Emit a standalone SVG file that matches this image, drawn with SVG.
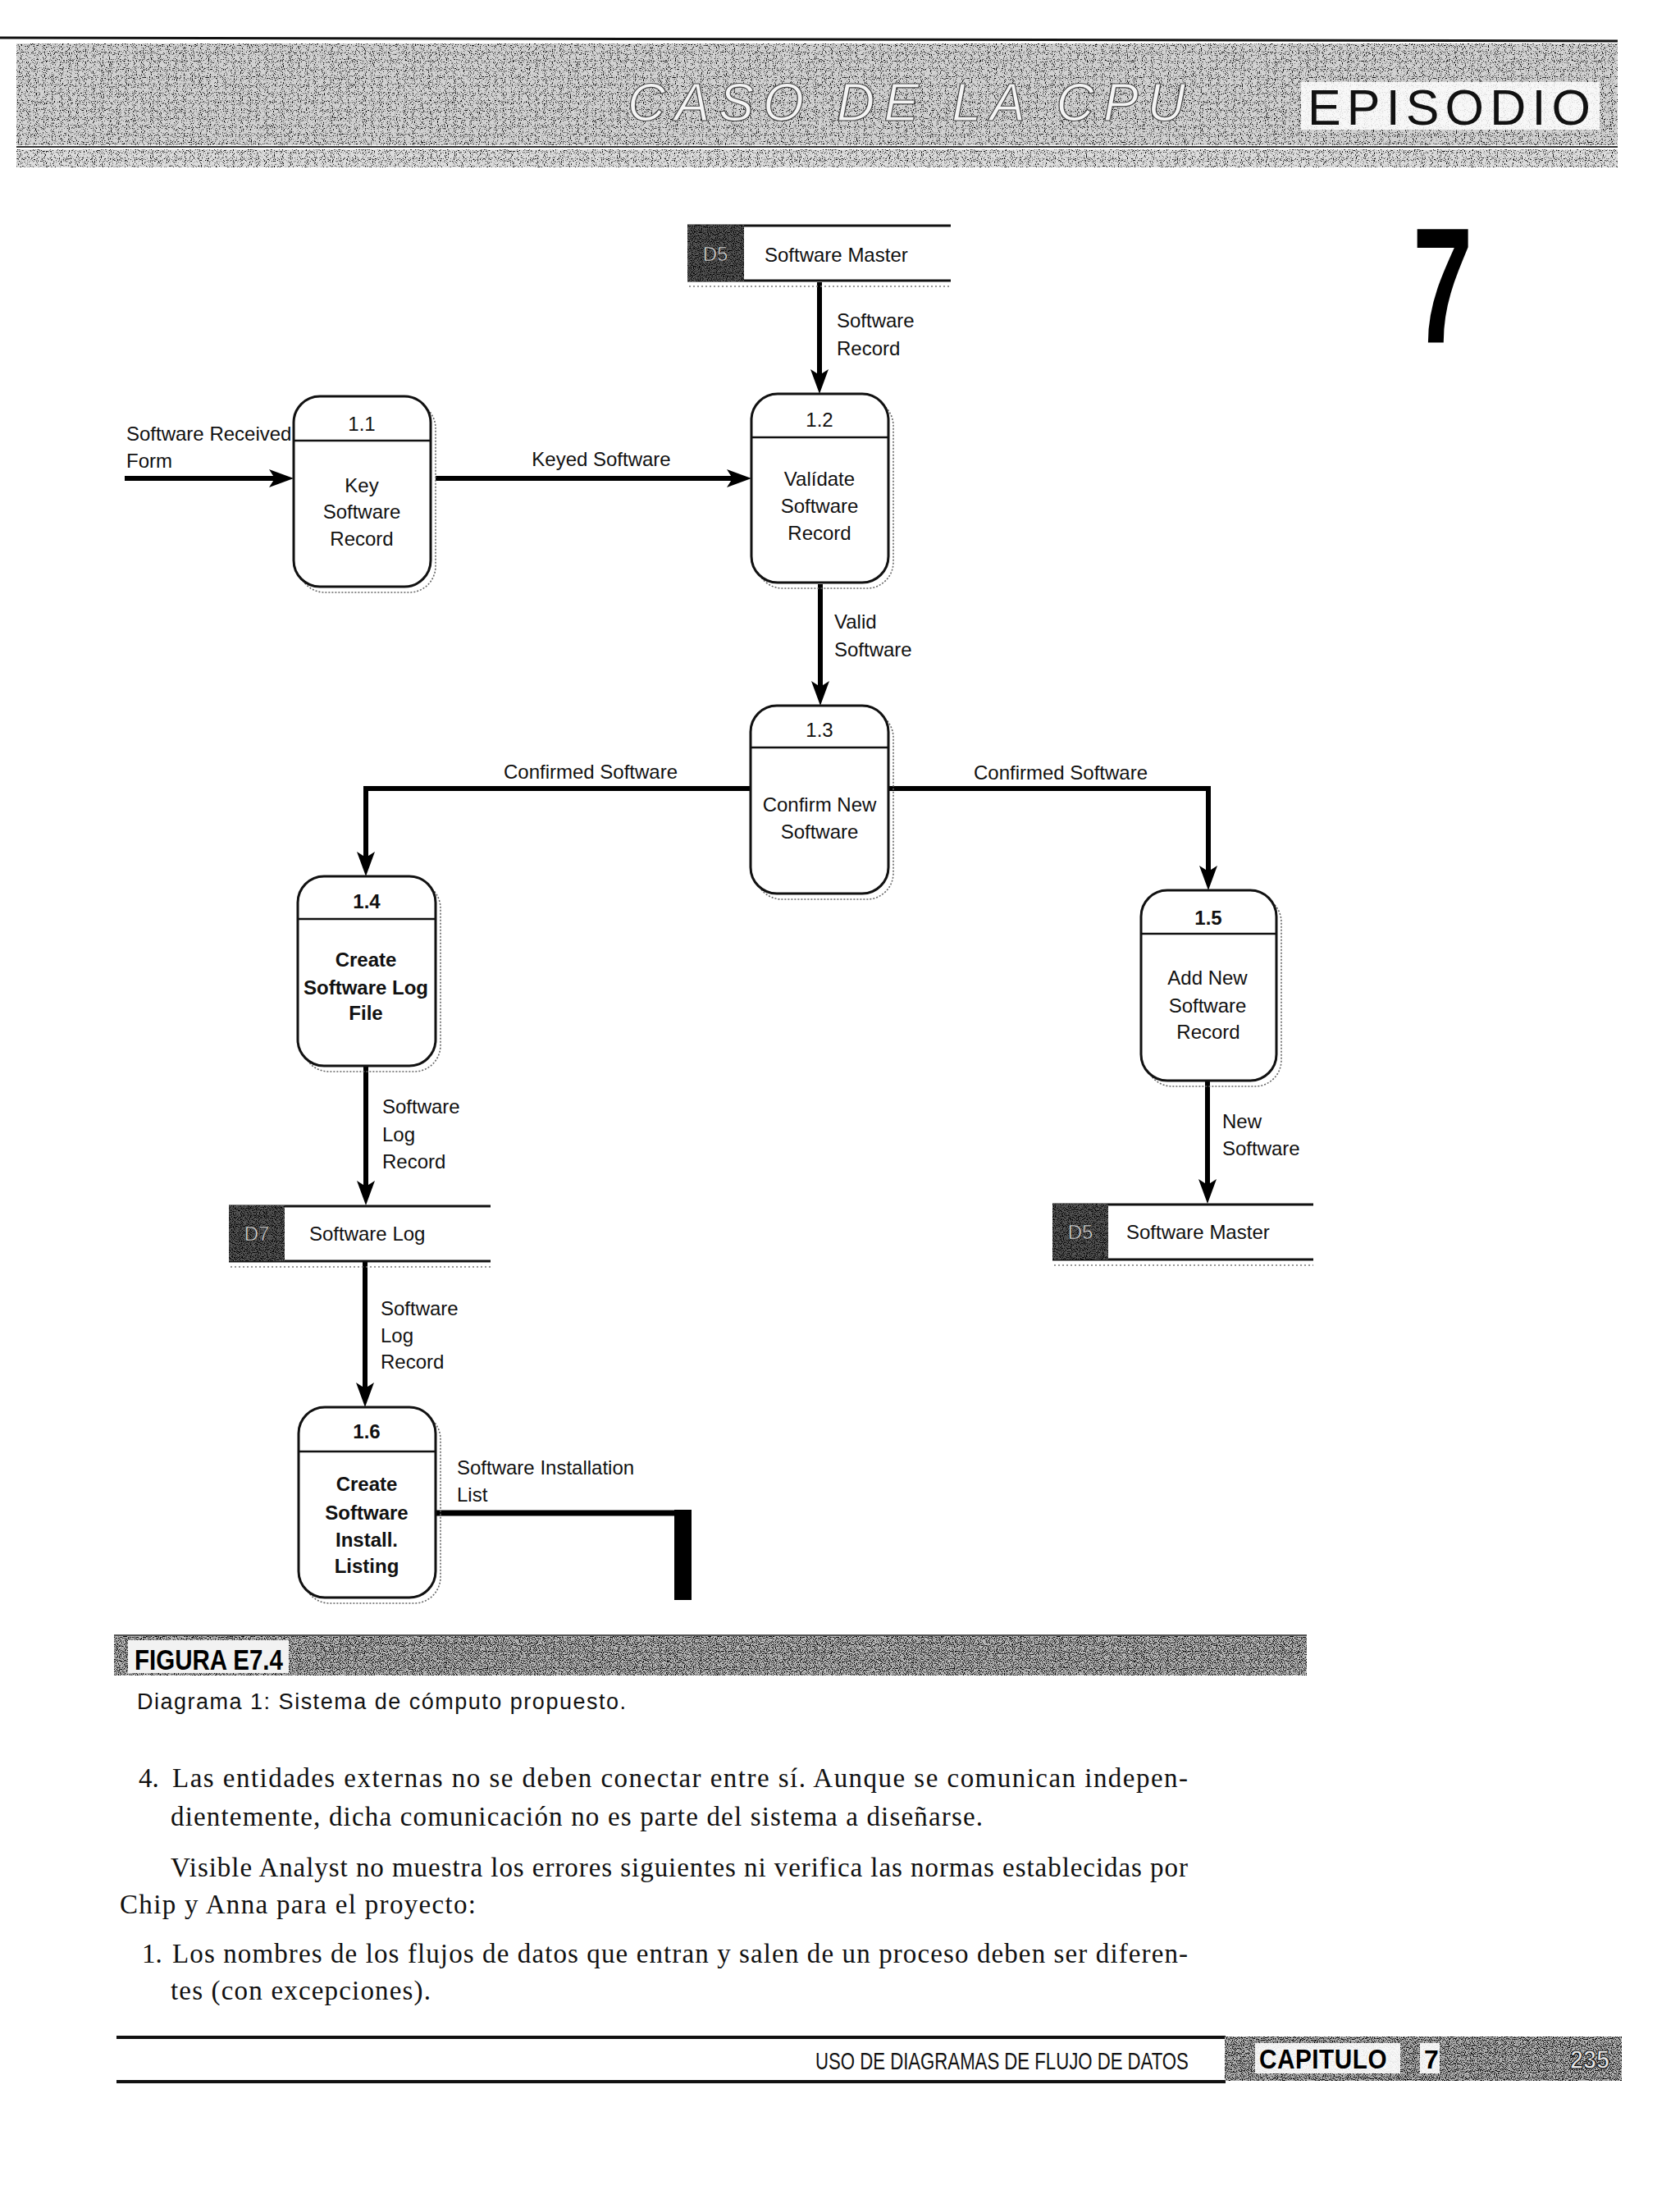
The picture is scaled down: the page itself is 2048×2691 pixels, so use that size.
<svg xmlns="http://www.w3.org/2000/svg" width="2048" height="2691" viewBox="0 0 2048 2691">
<defs>
<style>
.box{fill:#fff;stroke:#111;stroke-width:3}
.shadow{fill:none;stroke:#666;stroke-width:1.6;stroke-dasharray:2 2}
.div{stroke:#111;stroke-width:2.5}
.t{font-family:"Liberation Sans",Arial,sans-serif;font-size:24px;fill:#111}
.c{text-anchor:middle}
.b{font-weight:bold}
.flow{fill:none;stroke:#000;stroke-width:6;marker-end:url(#ah)}
.srule{stroke:#111;stroke-width:3}
.sshadow{stroke:#777;stroke-width:1.5;stroke-dasharray:2 3}
.serif{font-family:"Liberation Serif","Times New Roman",serif;font-size:33px;fill:#111}
</style>
<marker id="ah" markerUnits="userSpaceOnUse" markerWidth="32" markerHeight="22" viewBox="0 0 32 22" refX="18" refY="11" orient="auto">
<path d="M0,0 L30,11 L0,22 L7,11 z" fill="#000"/>
</marker>
<filter id="grainL" x="0" y="0" width="1" height="1" color-interpolation-filters="sRGB">
<feTurbulence type="fractalNoise" baseFrequency="0.9" numOctaves="1" seed="3"/>
<feColorMatrix type="matrix" values="0 0 0 0 0  0 0 0 0 0  0 0 0 0 0  -7 0 0 0 3.1"/>
<feComposite in2="SourceGraphic" operator="in"/>
</filter>
<filter id="grainD" x="0" y="0" width="1" height="1" color-interpolation-filters="sRGB">
<feTurbulence type="fractalNoise" baseFrequency="0.9" numOctaves="1" seed="7"/>
<feColorMatrix type="matrix" values="0 0 0 0 0  0 0 0 0 0  0 0 0 0 0  -7 0 0 0 3.6"/>
<feComposite in2="SourceGraphic" operator="in"/>
</filter>
</defs>
<rect width="2048" height="2691" fill="#fff"/>

<g id="header">
<line x1="0" y1="46" x2="1972" y2="50" stroke="#111" stroke-width="3"/>
<rect x="20" y="53" width="1952" height="124" fill="#d2d2d2"/>
<rect x="20" y="53" width="1952" height="124" fill="#000" filter="url(#grainL)"/>
<line x1="20" y1="179" x2="1972" y2="179" stroke="#333" stroke-width="2"/>
<rect x="20" y="182" width="1952" height="22" fill="#dcdcdc"/>
<rect x="20" y="182" width="1952" height="22" fill="#000" filter="url(#grainL)"/>
<text x="765" y="147" font-family="Liberation Sans, Arial, sans-serif" font-size="64" font-style="italic" fill="#f4f4f4" stroke="#444" stroke-width="1.2" textLength="680" lengthAdjust="spacing">CASO DE LA CPU</text>
<rect x="1586" y="100" width="364" height="58" fill="#fff" opacity="0.85"/>
<text x="1594" y="152" font-family="Liberation Sans, Arial, sans-serif" font-size="61" fill="#111" textLength="345" lengthAdjust="spacing">EPISODIO</text>
<text transform="translate(1728,417) scale(0.66,1)" x="-9" y="0" font-family="Liberation Sans, Arial, sans-serif" font-size="200" font-weight="bold" fill="#000">7</text>
</g>

<g id="connectors">
<g id="f_received">
<path class="flow" d="M152,583 H346"/>
<text class="t" x="154" y="537">Software Received</text>
<text class="t" x="154" y="570">Form</text>
</g>
<g id="f_keyed">
<path class="flow" d="M531,583 H904"/>
<text class="t c" x="733" y="568">Keyed Software</text>
</g>
<g id="f_swrecord">
<path class="flow" d="M999,344 V468"/>
<text class="t" x="1020" y="399">Software</text>
<text class="t" x="1020" y="433">Record</text>
</g>
<g id="f_valid">
<path class="flow" d="M1000,712 V848"/>
<text class="t" x="1017" y="766">Valid</text>
<text class="t" x="1017" y="800">Software</text>
</g>
<g id="f_conf_left">
<path class="flow" d="M915,961 H446 V1056"/>
<text class="t c" x="720" y="949">Confirmed Software</text>
</g>
<g id="f_conf_right">
<path class="flow" d="M1083,961 H1473 V1073"/>
<text class="t c" x="1293" y="950">Confirmed Software</text>
</g>
<g id="f_log1">
<path class="flow" d="M446,1299 V1457"/>
<text class="t" x="466" y="1357">Software</text>
<text class="t" x="466" y="1391">Log</text>
<text class="t" x="466" y="1424">Record</text>
</g>
<g id="f_new">
<path class="flow" d="M1472,1317 V1455"/>
<text class="t" x="1490" y="1375">New</text>
<text class="t" x="1490" y="1408">Software</text>
</g>
<g id="f_log2">
<path class="flow" d="M445,1537 V1703"/>
<text class="t" x="464" y="1603">Software</text>
<text class="t" x="464" y="1636">Log</text>
<text class="t" x="464" y="1668">Record</text>
</g>
<g id="f_install">
<path d="M531,1844 H834" fill="none" stroke="#000" stroke-width="7"/>
<rect x="822" y="1840" width="21" height="110" fill="#000"/>
<text class="t" x="557" y="1797">Software  Installation</text>
<text class="t" x="557" y="1830">List</text>
</g>
</g>

<g id="d5_top">
<line class="sshadow" x1="840" y1="349" x2="1159" y2="349"/>
<line class="srule" x1="838" y1="275" x2="1159" y2="275"/>
<line class="srule" x1="838" y1="342" x2="1159" y2="342"/>
<rect x="838" y="274" width="69" height="69" fill="#555"/>
<rect x="838" y="274" width="69" height="69" fill="#000" filter="url(#grainD)"/>
<text class="t c" x="872" y="318" style="fill:#e0e0e0" stroke="#222" stroke-width="0.6">D5</text>
<text class="t" x="932" y="319">Software Master</text>
</g>

<g id="p1_1">
<rect class="shadow" x="364" y="490" width="167" height="232" rx="32"/>
<rect class="box" x="358" y="483" width="167" height="232" rx="32"/>
<line class="div" x1="358" y1="537" x2="525" y2="537"/>
<text class="t c" x="441" y="525">1.1</text>
<text class="t c" x="441" y="600">Key</text>
<text class="t c" x="441" y="632">Software</text>
<text class="t c" x="441" y="665">Record</text>
</g>

<g id="p1_2">
<rect class="shadow" x="922" y="487" width="167" height="230" rx="32"/>
<rect class="box" x="916" y="480" width="167" height="230" rx="32"/>
<line class="div" x1="916" y1="533" x2="1083" y2="533"/>
<text class="t c" x="999" y="520">1.2</text>
<text class="t c" x="999" y="592">Valídate</text>
<text class="t c" x="999" y="625">Software</text>
<text class="t c" x="999" y="658">Record</text>
</g>

<g id="p1_3">
<rect class="shadow" x="921" y="867" width="168" height="229" rx="32"/>
<rect class="box" x="915" y="860" width="168" height="229" rx="32"/>
<line class="div" x1="915" y1="911" x2="1083" y2="911"/>
<text class="t c" x="999" y="898">1.3</text>
<text class="t c" x="999" y="989">Confirm New</text>
<text class="t c" x="999" y="1022">Software</text>
</g>

<g id="p1_4">
<rect class="shadow" x="369" y="1075" width="168" height="231" rx="32"/>
<rect class="box" x="363" y="1068" width="168" height="231" rx="32"/>
<line class="div" x1="363" y1="1120" x2="531" y2="1120"/>
<text class="t c b" x="447" y="1107">1.4</text>
<text class="t c b" x="446" y="1178">Create</text>
<text class="t c b" x="446" y="1212">Software Log</text>
<text class="t c b" x="446" y="1243">File</text>
</g>

<g id="p1_5">
<rect class="shadow" x="1397" y="1092" width="165" height="232" rx="32"/>
<rect class="box" x="1391" y="1085" width="165" height="232" rx="32"/>
<line class="div" x1="1391" y1="1138" x2="1556" y2="1138"/>
<text class="t c b" x="1473" y="1127">1.5</text>
<text class="t c" x="1472" y="1200">Add New</text>
<text class="t c" x="1472" y="1234">Software</text>
<text class="t c" x="1473" y="1266">Record</text>
</g>

<g id="d7">
<line class="sshadow" x1="281" y1="1544" x2="598" y2="1544"/>
<line class="srule" x1="279" y1="1470" x2="598" y2="1470"/>
<line class="srule" x1="279" y1="1537" x2="598" y2="1537"/>
<rect x="279" y="1469" width="68" height="68" fill="#555"/>
<rect x="279" y="1469" width="68" height="68" fill="#000" filter="url(#grainD)"/>
<text class="t c" x="313" y="1512" style="fill:#e0e0e0" stroke="#222" stroke-width="0.6">D7</text>
<text class="t" x="377" y="1512">Software Log</text>
</g>

<g id="d5_bottom">
<line class="sshadow" x1="1285" y1="1542" x2="1601" y2="1542"/>
<line class="srule" x1="1283" y1="1468" x2="1601" y2="1468"/>
<line class="srule" x1="1283" y1="1535" x2="1601" y2="1535"/>
<rect x="1283" y="1467" width="68" height="68" fill="#555"/>
<rect x="1283" y="1467" width="68" height="68" fill="#000" filter="url(#grainD)"/>
<text class="t c" x="1317" y="1510" style="fill:#e0e0e0" stroke="#222" stroke-width="0.6">D5</text>
<text class="t" x="1373" y="1510">Software Master</text>
</g>

<g id="p1_6">
<rect class="shadow" x="370" y="1722" width="167" height="232" rx="32"/>
<rect class="box" x="364" y="1715" width="167" height="232" rx="32"/>
<line class="div" x1="364" y1="1769" x2="531" y2="1769"/>
<text class="t c b" x="447" y="1753">1.6</text>
<text class="t c b" x="447" y="1817">Create</text>
<text class="t c b" x="447" y="1852">Software</text>
<text class="t c b" x="447" y="1885">Install.</text>
<text class="t c b" x="447" y="1917">Listing</text>
</g>

<g id="caption">
<rect x="139" y="1992" width="1454" height="50" fill="#bcbcbc"/>
<rect x="139" y="1992" width="1454" height="50" fill="#000" filter="url(#grainD)"/>
<line x1="139" y1="1993" x2="1593" y2="1993" stroke="#555" stroke-width="2"/>
<rect x="156" y="1999" width="196" height="40" fill="#f2f2f2"/>
<text transform="translate(164,2035) scale(0.82,1)" x="0" y="0" font-family="Liberation Sans, Arial, sans-serif" font-size="36" font-weight="bold" fill="#000">FIGURA E7.4</text>
<text x="167" y="2083" font-family="Liberation Sans, Arial, sans-serif" font-size="27" fill="#111" textLength="596" lengthAdjust="spacing">Diagrama 1: Sistema de cómputo propuesto.</text>
</g>

<g id="body">
<text class="serif" x="169" y="2178">4.</text>
<text class="serif" x="210" y="2178" textLength="1238" lengthAdjust="spacing">Las entidades externas no se deben conectar entre sí. Aunque se comunican indepen-</text>
<text class="serif" x="208" y="2225" textLength="990" lengthAdjust="spacing">dientemente, dicha comunicación no es parte del sistema a diseñarse.</text>
<text class="serif" x="208" y="2287" textLength="1240" lengthAdjust="spacing">Visible Analyst no muestra los errores siguientes ni verifica las normas establecidas por</text>
<text class="serif" x="146" y="2332" textLength="434" lengthAdjust="spacing">Chip y Anna para el proyecto:</text>
<text class="serif" x="173" y="2392">1.</text>
<text class="serif" x="210" y="2392" textLength="1238" lengthAdjust="spacing">Los nombres de los flujos de datos que entran y salen de un proceso deben ser diferen-</text>
<text class="serif" x="208" y="2437" textLength="317" lengthAdjust="spacing">tes (con excepciones).</text>
</g>

<g id="footer">
<line x1="142" y1="2483" x2="1494" y2="2483" stroke="#111" stroke-width="4"/>
<line x1="142" y1="2537" x2="1494" y2="2537" stroke="#111" stroke-width="4"/>
<text transform="translate(994,2522) scale(0.765,1)" x="0" y="0" font-family="Liberation Sans, Arial, sans-serif" font-size="29" fill="#111">USO DE DIAGRAMAS DE FLUJO DE DATOS</text>
<rect x="1493" y="2482" width="484" height="54" fill="#b4b4b4"/>
<rect x="1493" y="2482" width="484" height="54" fill="#000" filter="url(#grainD)"/>
<rect x="1530" y="2490" width="177" height="37" fill="#fff" opacity="0.9"/>
<rect x="1731" y="2490" width="24" height="37" fill="#fff" opacity="0.9"/>
<text transform="translate(1535,2521) scale(0.9,1)" x="0" y="0" font-family="Liberation Sans, Arial, sans-serif" font-size="33" font-weight="bold" fill="#000" letter-spacing="0.6">CAPITULO</text>
<text x="1736" y="2521" font-family="Liberation Sans, Arial, sans-serif" font-size="32" font-weight="bold" fill="#000">7</text>
<text transform="translate(1914,2521) scale(0.9,1)" x="0" y="0" font-family="Liberation Sans, Arial, sans-serif" font-size="32" font-weight="bold" fill="#e8e8e8" stroke="#111" stroke-width="1.2">235</text>
</g>
</svg>
